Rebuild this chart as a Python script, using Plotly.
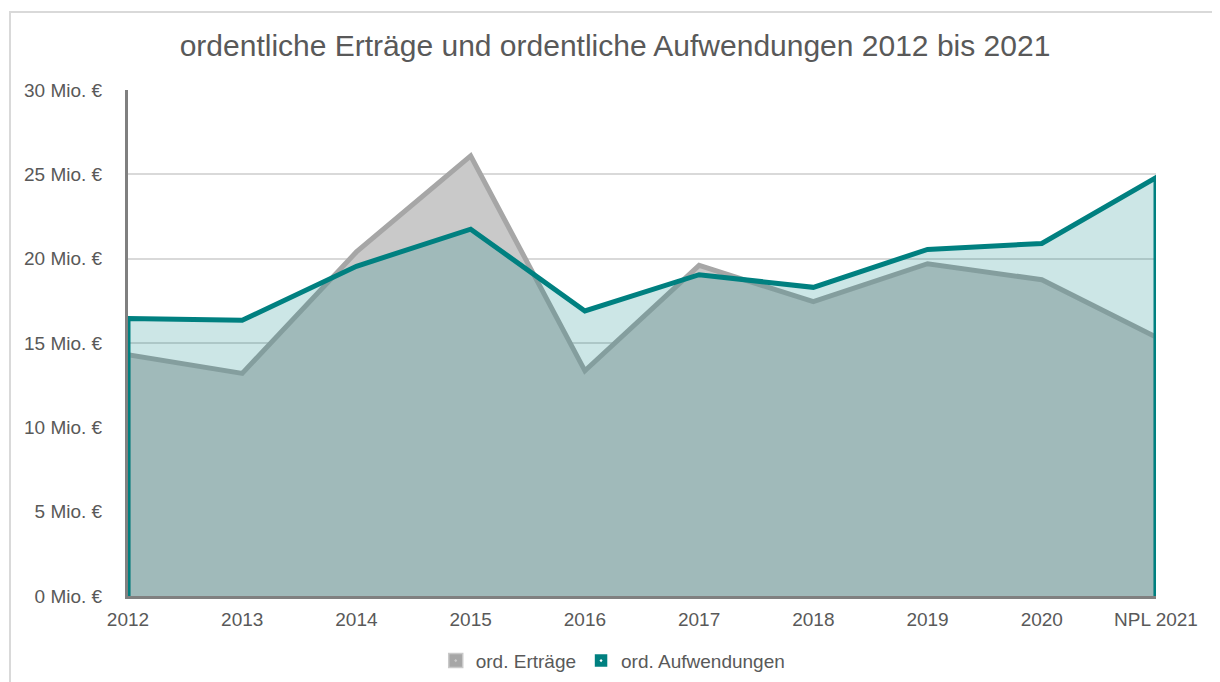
import plotly.graph_objects as go

categories = ["2012", "2013", "2014", "2015", "2016", "2017", "2018", "2019", "2020", "NPL 2021"]
ertraege = [14.3, 13.2, 20.4, 26.1, 13.35, 19.6, 17.45, 19.7, 18.75, 15.35]
aufwendungen = [16.45, 16.35, 19.55, 21.75, 16.9, 19.05, 18.3, 20.55, 20.9, 24.8]
y_ticks = [0, 5, 10, 15, 20, 25, 30]
y_tick_labels = [f"{v} Mio. €" for v in y_ticks]

FONT = "Liberation Sans, Arial, sans-serif"
TXT = "#595959"

# page has an 8px body margin; the figure is sized to fit the window
W, H = 1212, 674


def closed(xs, ys):
    return [xs[0]] + list(xs) + [xs[-1]], [0] + list(ys) + [0]


fig = go.Figure()

xe, ye = closed(categories, ertraege)
fig.add_trace(go.Scatter(
    x=xe, y=ye, mode="lines", fill="toself",
    fillcolor="#C9C9C9", line=dict(color="#A6A6A6", width=5),
    showlegend=False, hoverinfo="skip"))

xa, ya = closed(categories, aufwendungen)
fig.add_trace(go.Scatter(
    x=xa, y=ya, mode="lines", fill="toself",
    fillcolor="rgba(0,128,128,0.2)", line=dict(color="#008080", width=5),
    showlegend=False, hoverinfo="skip"))

# legend entries
fig.add_trace(go.Scatter(
    x=[None], y=[None], mode="markers", name="ord. Erträge",
    marker=dict(symbol="square-dot", size=14, color="#A6A6A6",
                line=dict(color="#C9C9C9", width=1.5))))
fig.add_trace(go.Scatter(
    x=[None], y=[None], mode="markers", name="ord. Aufwendungen",
    marker=dict(symbol="square-dot", size=14, color="#008080",
                line=dict(color="#FFFFFF", width=1.5))))

fig.update_layout(
    width=W, height=H,
    margin=dict(l=120, r=64, t=82, b=86, autoexpand=False),
    paper_bgcolor="white", plot_bgcolor="white",
    font=dict(family=FONT, color=TXT, size=19),
    title=dict(text="ordentliche Erträge und ordentliche Aufwendungen 2012 bis 2021",
               x=607 / W, xanchor="center", xref="container",
               y=1 - 37 / H, yanchor="middle", yref="container",
               font=dict(size=30, color=TXT, family=FONT)),
    legend=dict(orientation="h", x=0.472, xanchor="center", y=-0.128, yanchor="middle",
                font=dict(size=19, color=TXT), itemwidth=30, tracegroupgap=0,
                bgcolor="rgba(0,0,0,0)"),
    xaxis=dict(type="category", categoryorder="array", categoryarray=categories,
               range=[0, len(categories) - 1], showgrid=False, automargin=False,
               showline=True, linecolor="#808080", linewidth=3,
               ticks="", ticklabelstandoff=4,
               tickfont=dict(size=19, color=TXT)),
    yaxis=dict(range=[0, 30], tickmode="array", tickvals=y_ticks, ticktext=y_tick_labels,
               showgrid=True, gridcolor="#D9D9D9", gridwidth=1.5, automargin=False,
               zeroline=False, showline=True, linecolor="#808080", linewidth=3,
               ticks="", ticklabelstandoff=19,
               tickfont=dict(size=19, color=TXT)),
    shapes=[dict(type="rect", xref="paper", yref="paper",
                 x0=(10 - 128) / 1028, x1=1.2, y0=-0.3, y1=(596 - 12) / 506,
                 line=dict(color="#D9D9D9", width=2), fillcolor="rgba(0,0,0,0)",
                 layer="below")],
)

fig.write_html("out.html")
